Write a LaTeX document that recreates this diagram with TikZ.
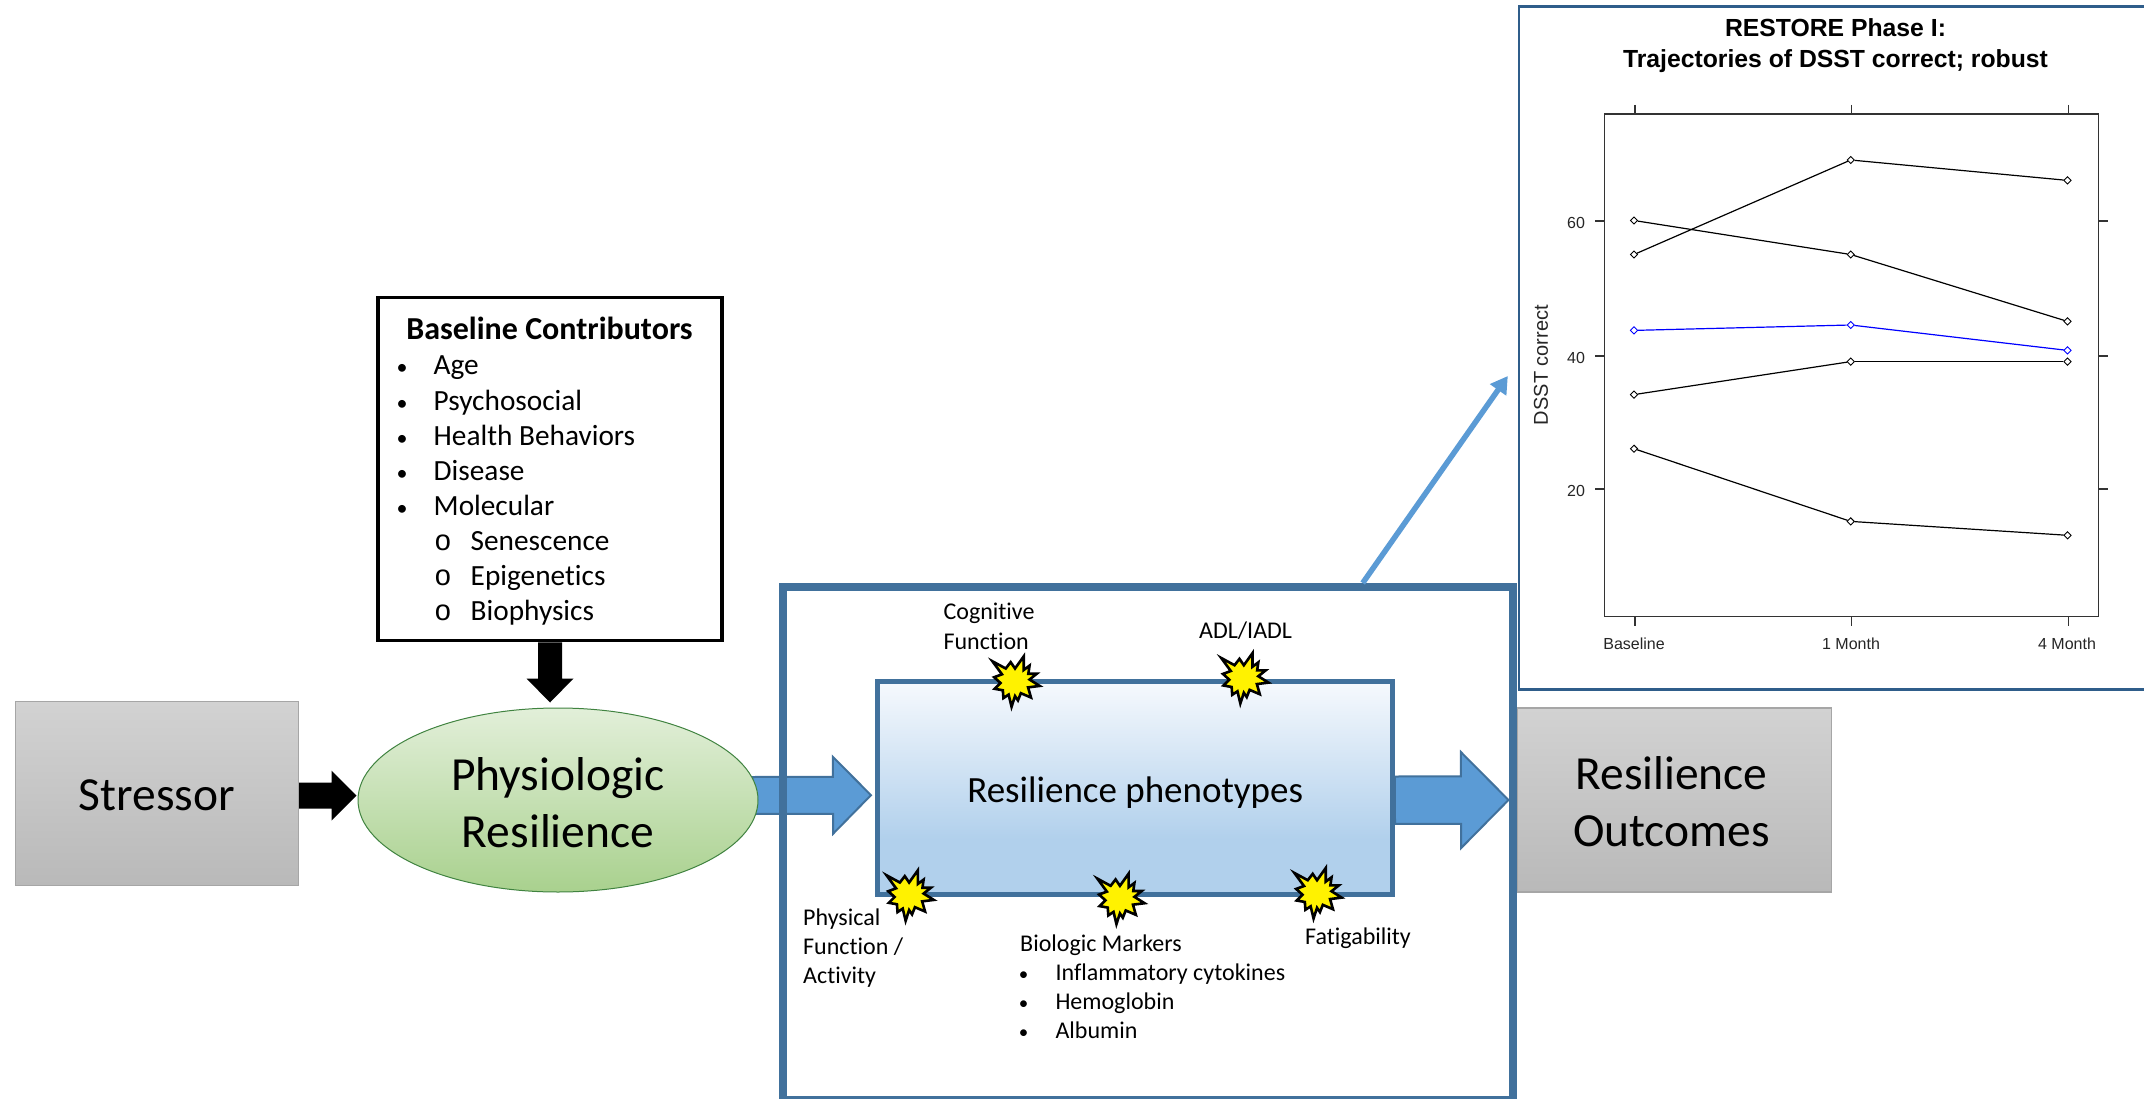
\documentclass[tikz,border=0pt]{standalone}
\usepackage{fontspec}
\setmainfont[Ligatures=NoCommon]{Carlito}
\newfontfamily\arialf{Liberation Sans}
\usetikzlibrary{arrows.meta,calc,shapes.geometric}
\definecolor{frameblue}{HTML}{41719C}
\definecolor{arrowblue}{HTML}{5B9BD5}
\definecolor{chartline}{HTML}{2F5D8A}
\definecolor{grayT}{HTML}{D2D2D2}
\definecolor{grayB}{HTML}{B9B9B9}
\definecolor{greenT}{HTML}{E2EFD9}
\definecolor{greenB}{HTML}{A9D18E}
\definecolor{blueT}{HTML}{F6F9FD}
\definecolor{blueB}{HTML}{B1D0EC}
\pgfdeclareverticalshading{grayfade}{100bp}{color(0bp)=(grayB); color(25bp)=(grayB); color(75bp)=(grayT); color(100bp)=(grayT)}
\pgfdeclareverticalshading{greenfade}{100bp}{color(0bp)=(greenB); color(25bp)=(greenB); color(75bp)=(greenT); color(100bp)=(greenT)}
\pgfdeclareverticalshading{bluefade}{100bp}{color(0bp)=(blueB); color(25bp)=(blueB); color(38bp)=(blueB); color(75bp)=(blueT); color(100bp)=(blueT)}
\pgfdeclarelayer{back}
\pgfsetlayers{back,main}
\newcommand{\blockarrow}[6]{% from, to, half shaft, half head, head length, style
  \coordinate (ba) at ($(#2)!#5pt!(#1)$);
  \draw[#6] ($(#1)!#3pt!90:(#2)$) -- ($(ba)!#3pt!90:(#2)$) -- ($(ba)!#4pt!90:(#2)$) -- (#2)
    -- ($(ba)!#4pt!-90:(#2)$) -- ($(ba)!#3pt!-90:(#2)$) -- ($(#1)!#3pt!-90:(#2)$) -- cycle;
}
\newcommand{\burst}[2]{%
  \begin{scope}[shift={(#1,#2)},scale=.29]
    \draw[burstline] (-80,-67) -- (-34,-42) -- (-17,-64) -- (-2,-42) -- (28,-84) -- (28,-37) -- (48,-52) -- (44,-24)
      -- (73,-24) -- (48,-4) -- (83,18) -- (43,23) -- (53,58) -- (18,43) -- (8,68) -- (-2,53) -- (-14,90)
      -- (-24,48) -- (-42,60) -- (-44,33) -- (-72,28) -- (-52,8) -- (-74,-12) -- (-47,-22) -- cycle;
  \end{scope}
}
\tikzset{
  greybox/.style={draw=black!35,line width=1.5pt,shade,shading=grayfade,inner sep=0pt,align=center,font=\fontsize{47.5}{57}\selectfont},
  item/.style={anchor=west,inner sep=0pt,yshift=-7pt,font=\fontsize{29.3}{35}\selectfont,text height=.72em,text depth=.2em},
  small/.style={anchor=west,inner sep=0pt,yshift=-5.5pt,font=\fontsize{24}{29}\selectfont,text height=.72em,text depth=.2em},
  dot/.style={anchor=center,inner sep=0pt,yshift=-7pt,font=\fontsize{22}{26}\selectfont,text height=.72em,text depth=.2em},
  ring/.style={anchor=center,inner sep=0pt,yshift=-7pt,font=\arialf\fontsize{29}{34}\selectfont,text height=.72em,text depth=.2em},
  solidarrow/.style={fill=black,draw=none},
  bluearrow/.style={fill=arrowblue,draw=frameblue,line width=2pt},
  burstline/.style={fill=yellow,draw=black,line width=2.6pt},
  dia/.style={diamond,draw=#1,fill=none,line width=.9pt,inner sep=0pt,minimum width=7.5pt,minimum height=7.5pt},
  trace/.style={draw=#1,line width=1.2pt},
  tick/.style={draw=black!80,line width=1.2pt},
  axis/.style={inner sep=0pt,font=\arialf\fontsize{16}{19}\selectfont,text=black!85},
}
\begin{document}
\begin{tikzpicture}[x=1pt,y=-1pt]
\useasboundingbox (0,0) rectangle (2144,1099);

% left column
\node[greybox,minimum width=283pt,minimum height=184pt,text height=33pt,text depth=0pt] (stressor) at (156.75,793.5) {Stressor};
\node[ellipse,draw=green!35!black!75,line width=1pt,shade,shading=greenfade,inner sep=0pt,minimum width=400pt,minimum height=184pt,align=center,font=\fontsize{47.5}{57}\selectfont] (physio) at (558,800) {\rule{0pt}{38pt}Physiologic\\Resilience};

% baseline contributors
\node[draw=black,line width=3.6pt,fill=white,minimum width=344pt,minimum height=343pt,inner sep=0pt] (baseline) at (550,469) {};
\node[inner sep=0pt,font=\bfseries\fontsize{32}{38}\selectfont] (basetitle) at (549.5,328) {Baseline Contributors};
\foreach \t/\y [count=\i] in {Age/365,Psychosocial/400.5,Health Behaviors/435.5,Disease/470.5,Molecular/506} {
  \node[dot] (bul\i) at (402,\y) {•};
  \node[item] (it\i) at (433.5,\y) {\t};
}
\foreach \t/\y [count=\i] in {Senescence/541,Epigenetics/576,Biophysics/611} {
  \node[ring] (sbul\i) at (443,\y) {o};
  \node[item] (sub\i) at (470.5,\y) {\t};
}

% central frame and phenotype box
\node[draw=frameblue,line width=8pt,minimum width=730pt,minimum height=513pt,inner sep=0pt] (frame) at (1148,843.5) {};
\node[draw=frameblue,line width=5pt,shade,shading=bluefade,minimum width=514.5pt,minimum height=212.5pt,inner sep=0pt,font=\fontsize{37}{45}\selectfont,text height=35pt,text depth=7pt] (pheno) at (1135.2,788.2) {Resilience phenotypes};

% outcome box
\node[greybox,minimum width=314pt,minimum height=184pt] (outcome) at (1674.5,800) {\rule{0pt}{36pt}\hspace*{-6pt}Resilience\\\hspace*{-6pt}Outcomes};

% arrows
\coordinate (a1s) at ($(stressor.east)+(0,2)$);
\coordinate (a1e) at ($(physio.west)+(-1,-4.5)$);
\coordinate (a2s) at ($(baseline.south)+(0,0)$);
\coordinate (a2e) at ($(physio.north)+(-8,-5)$);
\coordinate (a3s) at ($(physio.east)+(-6,-4.5)$);
\coordinate (a3e) at ($(pheno.west)+(-4.5,7)$);
\coordinate (a4s) at ($(pheno.east)+(0,12)$);
\coordinate (a4e) at ($(frame.east)+(-8.5,-43.5)$);
\blockarrow{a1s}{a1e}{13}{25}{25}{solidarrow}
\blockarrow{a2s}{a2e}{12}{23.5}{24}{solidarrow}
\begin{pgfonlayer}{back}
\blockarrow{a3s}{a3e}{18.5}{38.5}{38}{bluearrow}
\end{pgfonlayer}
\blockarrow{a4s}{a4e}{23.7}{48}{47.5}{bluearrow}

% bursts
\burst{1015.6}{680.7}
\burst{1244.4}{677.4}
\burst{909.7}{894.7}
\burst{1120.5}{898}
\burst{1317.6}{892.4}

% phenotype labels
\node[small] (cog1) at (943.4,611.7) {Cognitive};
\node[small] (cog2) at (943.4,641) {Function};
\node[small] (adl) at (1199,630.7) {ADL/IADL};
\node[small] (phy1) at (803,917) {Physical};
\node[small] (phy2) at (803,946) {Function /};
\node[small] (phy3) at (803,975) {Activity};
\node[small] (bio) at (1020,943) {Biologic Markers};
\foreach \t/\y [count=\i] in {Inflammatory cytokines/972.5,Hemoglobin/1001.5,Albumin/1030} {
  \node[dot,yshift=1.5pt,font=\fontsize{19}{23}\selectfont] (bb\i) at (1023.5,\y) {•};
  \node[small] (bt\i) at (1055.3,\y) {\t};
}
\node[small] (fat) at (1305,936.7) {Fatigability};

% chart
\node[draw=chartline,line width=2.4pt,fill=white,minimum width=640pt,minimum height=683pt,inner sep=0pt] (chart) at (1839,348) {};
\coordinate (linkS) at ($(frame.north)+(214.7,0)$);
\coordinate (linkE) at ($(chart.west)+(-10,28)$);
\draw[arrowblue,line width=5.5pt,-{Triangle[length=17pt,width=19pt]}] (linkS) -- (linkE);
\node[inner sep=0pt,align=center,font=\arialf\bfseries\fontsize{24.75}{31.5}\selectfont] (ctitle) at (1835.5,45.5) {RESTORE Phase I:\\Trajectories of DSST correct; robust};
\node[draw=black!80,line width=1.2pt,minimum width=493.7pt,minimum height=502.5pt,inner sep=0pt] (plot) at (1851.5,365.2) {};
\foreach \x in {1635,1851.5,2068.4} {
  \draw[tick] (\x,105) -- (\x,114);
  \draw[tick] (\x,616.5) -- (\x,626);
}
\foreach \y in {221,356,489} {
  \draw[tick] (1595,\y) -- (1604.7,\y);
  \draw[tick] (2098.4,\y) -- (2108,\y);
}
\node[axis] (y60) at (1576,223) {60};
\node[axis] (y40) at (1576,358) {40};
\node[axis] (y20) at (1576,491) {20};
\node[axis] (xb) at (1634,644) {Baseline};
\node[axis] (xm1) at (1851,644) {1 Month};
\node[axis] (xm4) at (2067,644) {4 Month};
\node[axis,rotate=90,font=\arialf\fontsize{20}{24}\selectfont] (ylab) at (1541,365) {DSST correct};

\foreach \nm/\col/\ya/\yb/\yc in {A/black/254.5/160/180.4,B/black/220.5/254.5/321.4,C/blue/330.4/325/350.4,D/black/394.6/361.6/361.6,E/black/448.7/521.4/535.3} {
  \node[dia=\col] (\nm1) at (1634,\ya) {};
  \node[dia=\col] (\nm2) at (1850.7,\yb) {};
  \node[dia=\col] (\nm3) at (2067.5,\yc) {};
  \draw[trace=\col] (\nm1) -- (\nm2);
  \draw[trace=\col] (\nm2) -- (\nm3);
}
\end{tikzpicture}
\end{document}
